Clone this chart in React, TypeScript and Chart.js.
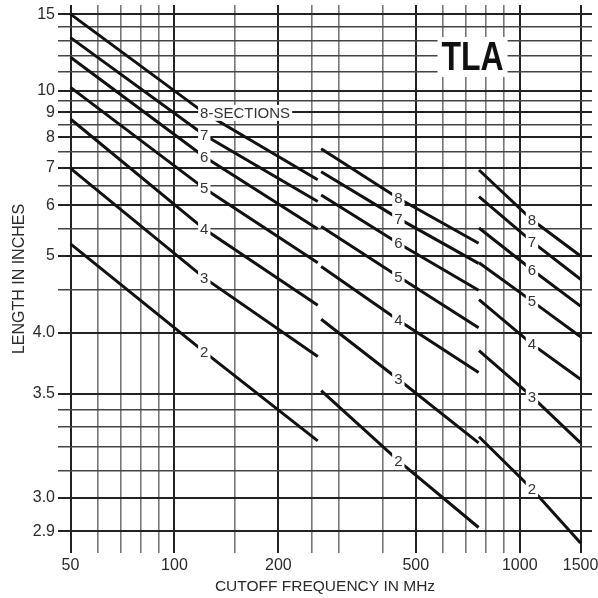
import React, { useEffect, useRef } from 'react';
import { Chart, Scale, registerables } from 'chart.js';

// ---- data ----
const SECTIONS = [8, 7, 6, 5, 4, 3, 2];

// frequency (MHz) of start, label position and end of each family of lines
const FREQ_LOW = [50, 122, 260];
const FREQ_MID = [266, 445, 760];
const FREQ_HIGH = [762, 1085, 1500];

// length (inches) at those frequencies, one row per number of sections (8..2)
const LEN_LOW = [
  [15.0, 8.98, 6.65],
  [13.19, 8.09, 6.09],
  [11.88, 7.34, 5.49],
  [10.18, 6.42, 4.89],
  [8.72, 5.49, 4.3],
  [6.98, 4.66, 3.78],
  [5.21, 3.82, 3.23],
];
const LEN_MID = [
  [7.6, 6.17, 5.22],
  [6.88, 5.71, 4.88],
  [6.25, 5.22, 4.49],
  [5.54, 4.68, 4.05],
  [4.83, 4.13, 3.65],
  [4.14, 3.6, 3.22],
  [3.52, 3.14, 2.91],
];
const LEN_HIGH = [
  [6.93, 5.68, 5.0],
  [6.21, 5.25, 4.64],
  [5.51, 4.78, 4.29],
  [4.89, 4.35, 3.96],
  [4.37, 3.89, 3.6],
  [3.83, 3.48, 3.22],
  [3.25, 3.03, 2.87],
];

const X_GRID = [50, 60, 70, 80, 90, 100, 150, 200, 250, 300, 400, 500, 600, 700, 800, 900, 1000, 1500];
const X_LABELS = [50, 100, 200, 500, 1000, 1500];
const Y_GRID = [15, 14, 13, 12, 11, 10, 9.5, 9, 8.5, 8, 7.5, 7, 6.5, 6, 5.5, 5, 4.5, 4, 3.5, 3.4, 3.3, 3.2, 3.1, 3, 2.9];
const Y_LABELS = [15, 10, 9, 8, 7, 6, 5, 4, 3.5, 3, 2.9];

const X_MIN = 46.0;
const X_MAX = 1619;
const Y_MIN = 2.846;
const Y_MAX = 15.786;
const Y_SHIFT = 2.5; // the length axis is logarithmic in (length - 2.5)

const BADGE_TEXT = 'TLA';
const BADGE_AT = [730, 11.9];

const FONT = "'Liberation Sans', Arial, sans-serif";

class ShiftedLogScale extends Scale {
  static id = 'shiftedLog';
  static defaults = {};
  determineDataLimits() {
    const mm = this.getMinMax(true);
    this.min = mm.min;
    this.max = mm.max;
  }
  buildTicks() {
    return Y_GRID.map((v) => ({ value: v }));
  }
  getLabelForValue(v) {
    return String(v);
  }
  configure() {
    super.configure();
    this._t0 = Math.log10(this.min - Y_SHIFT);
    this._t1 = Math.log10(this.max - Y_SHIFT);
  }
  getPixelForValue(v) {
    if (v === null || v === undefined || isNaN(v)) return NaN;
    const t = Math.log10(v - Y_SHIFT);
    return this.getPixelForDecimal((t - this._t0) / (this._t1 - this._t0));
  }
  getValueForPixel(p) {
    const d = this.getDecimalForPixel(p);
    return Y_SHIFT + Math.pow(10, this._t0 + d * (this._t1 - this._t0));
  }
}

Chart.register(...registerables, ShiftedLogScale);

const labelsPlugin = {
  id: 'sectionLabels',
  afterDatasetsDraw(chart) {
    const { ctx } = chart;
    ctx.save();
    ctx.font = `15px ${FONT}`;
    ctx.textBaseline = 'middle';
    ctx.textAlign = 'left';
    chart.data.datasets.forEach((ds, i) => {
      const el = chart.getDatasetMeta(i).data[1];
      if (!el) return;
      const text = ds.labelText;
      const firstW = ctx.measureText(text[0]).width;
      const w = ctx.measureText(text).width;
      const x0 = el.x - firstW / 2;
      ctx.fillStyle = '#fff';
      ctx.fillRect(x0 - 2, el.y - 8, w + 4, 16);
      ctx.fillStyle = '#333';
      ctx.fillText(text, x0, el.y + 1);
    });
    const cx = chart.scales.x.getPixelForValue(BADGE_AT[0]);
    const cy = chart.scales.y.getPixelForValue(BADGE_AT[1]);
    ctx.fillStyle = '#fff';
    ctx.fillRect(cx - 35, cy - 20, 70, 40);
    ctx.translate(cx, cy);
    ctx.scale(0.78, 1);
    ctx.font = `bold 41px ${FONT}`;
    ctx.textAlign = 'center';
    ctx.textBaseline = 'middle';
    ctx.fillStyle = '#111';
    ctx.fillText(BADGE_TEXT, 0, 2);
    ctx.restore();
  },
};

export default function App() {
  const ref = useRef<HTMLCanvasElement | null>(null);
  useEffect(() => {
    if (!ref.current) return;
    const groups = [
      { freqs: FREQ_LOW, lens: LEN_LOW },
      { freqs: FREQ_MID, lens: LEN_MID },
      { freqs: FREQ_HIGH, lens: LEN_HIGH },
    ];
    const datasets = groups.flatMap((g, gi) =>
      SECTIONS.map((n, i) => ({
        data: g.freqs.map((f, k) => ({ x: f, y: g.lens[i][k] })),
        labelText: gi === 0 && n === 8 ? '8-SECTIONS' : String(n),
        borderColor: '#111',
        borderWidth: 3,
        pointRadius: 0,
        showLine: true,
        fill: false,
        tension: 0,
        borderCapStyle: 'butt',
      }))
    );
    const chart = new Chart(ref.current, {
      type: 'scatter',
      data: { datasets },
      options: {
        animation: false,
        responsive: false,
        devicePixelRatio: 1,
        layout: { padding: { top: 5, right: 6, left: 0, bottom: 0 } },
        plugins: { legend: { display: false }, tooltip: { enabled: false } },
        scales: {
          x: {
            type: 'logarithmic',
            min: X_MIN,
            max: X_MAX,
            afterBuildTicks: (s) => {
              s.ticks = X_GRID.map((v) => ({ value: v }));
            },
            afterFit: (s) => {
              s.height = 45;
              s.paddingLeft = 0;
              s.paddingRight = 0;
            },
            border: { display: false },
            grid: {
              drawTicks: false,
              color: (c) => (X_LABELS.includes(c.tick?.value) ? '#222' : '#777'),
              lineWidth: (c) => (X_LABELS.includes(c.tick?.value) ? 2 : 1.6),
            },
            ticks: {
              autoSkip: false,
              maxRotation: 0,
              padding: 3,
              color: '#2a2a2a',
              font: { family: FONT, size: 16 },
              callback: (v) => (X_LABELS.includes(v) ? String(v) : ''),
            },
            title: {
              display: true,
              text: 'CUTOFF FREQUENCY IN MHz',
              color: '#2a2a2a',
              font: { family: FONT, size: 15.5 },
              padding: { top: 0, bottom: 2 },
            },
          },
          y: {
            type: 'shiftedLog',
            min: Y_MIN,
            max: Y_MAX,
            afterFit: (s) => {
              s.width = 58;
              s.paddingTop = 0;
              s.paddingBottom = 0;
            },
            border: { display: false },
            grid: {
              drawTicks: false,
              color: (c) => (Y_LABELS.includes(c.tick?.value) ? '#222' : '#444'),
              lineWidth: (c) => (Y_LABELS.includes(c.tick?.value) ? 2 : 1.6),
            },
            ticks: {
              autoSkip: false,
              padding: 3,
              color: '#2a2a2a',
              font: { family: FONT, size: 16 },
              callback: (v) => (Y_LABELS.includes(v) ? (v >= 5 ? String(v) : v.toFixed(1)) : ''),
            },
            title: {
              display: true,
              text: 'LENGTH IN INCHES',
              color: '#2a2a2a',
              font: { family: FONT, size: 16 },
              padding: { top: 10, bottom: 0 },
            },
          },
        },
      },
      plugins: [labelsPlugin],
    });
    return () => chart.destroy();
  }, []);
  return (
    <div style={{ position: 'fixed', left: 0, top: 0, width: 598, height: 598, background: '#fff' }}>
      <canvas ref={ref} width={598} height={598} style={{ display: 'block' }} />
    </div>
  );
}
